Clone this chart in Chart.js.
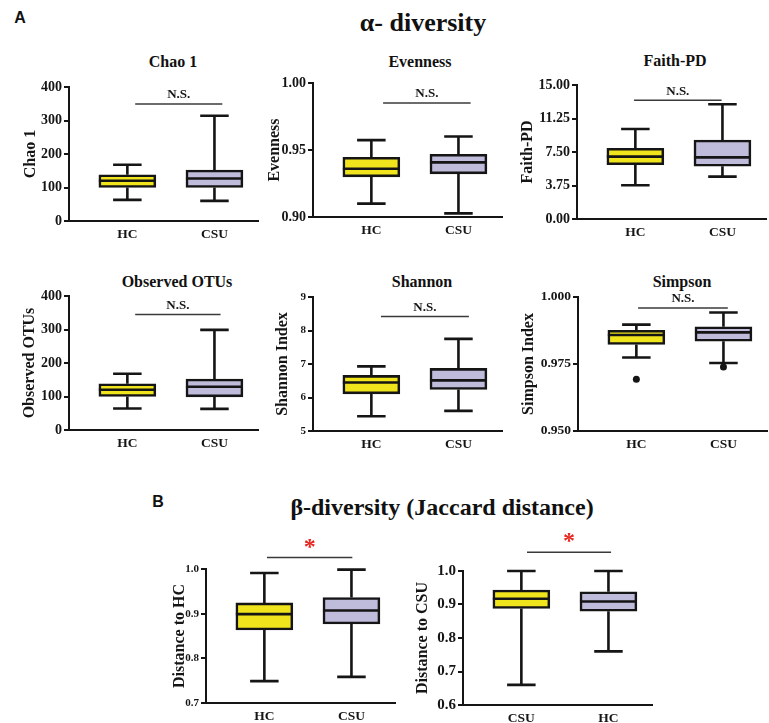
<!DOCTYPE html>
<html>
<head>
<meta charset="utf-8">
<script src="https://cdn.jsdelivr.net/npm/chart.js@4"></script>
<style>
  body { margin: 0; background: #fff; }
  #wrap { position: relative; width: 769px; height: 723px; overflow: hidden; }
  canvas { position: absolute; }
  .lbl { position: absolute; transform: translate(-50%, -50%); white-space: nowrap;
         font-family: "Liberation Serif", serif; font-weight: bold; color: #111; }
  .tag { position: absolute; transform: translate(-50%, -50%);
         font-family: "Liberation Sans", Arial, sans-serif; font-weight: bold; font-size: 16px; color: #111; }
</style>
</head>
<body>
<div id="wrap">
  <div class="tag" style="left:20px;top:18px">A</div>
  <div class="lbl" style="left:423px;top:23px;font-size:26px">α- diversity</div>
  <div class="tag" style="left:158px;top:502px">B</div>
  <div class="lbl" style="left:442px;top:507px;font-size:24px">β-diversity (Jaccard distance)</div>
</div>
<script>
// groups
const groupsA = ['HC', 'CSU'];
const groupsCSUFirst = ['CSU', 'HC'];

// box stats: [min, q1, median, q3, max]
const chao1HC = [63, 100, 120, 138, 168];
const chao1CSU = [60, 100, 127, 152, 314];
const evenHC = [0.910, 0.930, 0.936, 0.9446, 0.9574];
const evenCSU = [0.9027, 0.9322, 0.9408, 0.9468, 0.9601];
const faithHC = [3.77, 6.08, 6.98, 7.91, 10.07];
const faithCSU = [4.74, 5.90, 6.90, 8.84, 12.84];
const otuHC = [64, 100, 120, 138, 168];
const otuCSU = [63, 99, 129, 152, 299];
const shannonHC = [5.44, 6.11, 6.45, 6.66, 6.93];
const shannonCSU = [5.60, 6.24, 6.51, 6.87, 7.75];
const simpsonHC = [0.9774, 0.9823, 0.9858, 0.9876, 0.9897];
const simpsonCSU = [0.9754, 0.9835, 0.9868, 0.9889, 0.9942];
const simpsonOutHC = [0.9693];
const simpsonOutCSU = [0.9739];
const distToHC_HC = [0.749, 0.8635, 0.899, 0.924, 0.991];
const distToHC_CSU = [0.7585, 0.877, 0.907, 0.936, 0.9985];
const distToCSU_CSU = [0.660, 0.888, 0.917, 0.943, 1.0];
const distToCSU_HC = [0.760, 0.880, 0.909, 0.938, 1.0];

// tick labels
const countTicks = ['0', '100', '200', '300', '400'];
const evenTicks = ['0.90', '0.95', '1.00'];
const faithTicks = ['0.00', '3.75', '7.50', '11.25', '15.00'];
const shannonTicks = ['5', '6', '7', '8', '9'];
const simpsonTicks = ['0.950', '0.975', '1.000'];
const distHCTicks = ['0.7', '0.8', '0.9', '1.0'];
const distCSUTicks = ['0.6', '0.7', '0.8', '0.9', '1.0'];

const yellow = '#F0E41C';
const lilac = '#BFBBDB';
const ink = '#151515';
const serif = '"Liberation Serif", "Times New Roman", serif';

const panels = [
  {title: 'Chao 1', yTitle: 'Chao 1', groups: groupsA, boxes: [chao1HC, chao1CSU], outliers: [[], []],
   ticks: countTicks, sig: 'N.S.', sigY: 349, sigX: [1.09, 2.09],
   axisX: 69, top: 86.7, yw: 48, tickSize: 14, tx: 173, ty: 61.5},
  {title: 'Evenness', yTitle: 'Evenness', groups: groupsA, boxes: [evenHC, evenCSU], outliers: [[], []],
   ticks: evenTicks, sig: 'N.S.', sigY: 0.9851, sigX: [1.135, 2.14],
   axisX: 313, top: 82.7, yw: 48, tickSize: 14, tx: 420, ty: 61.5},
  {title: 'Faith-PD', yTitle: 'Faith-PD', groups: groupsA, boxes: [faithHC, faithCSU], outliers: [[], []],
   ticks: faithTicks, sig: 'N.S.', sigY: 13.28, sigX: [0.985, 1.99],
   axisX: 577, top: 85, yw: 59, tickSize: 14, tx: 675, ty: 61},
  {title: 'Observed OTUs', yTitle: 'Observed OTUs', groups: groupsA, boxes: [otuHC, otuCSU], outliers: [[], []],
   ticks: countTicks, sig: 'N.S.', sigY: 345, sigX: [1.09, 2.07],
   axisX: 69, top: 296, yw: 49, tickSize: 14, tx: 177, ty: 282},
  {title: 'Shannon', yTitle: 'Shannon Index', groups: groupsA, boxes: [shannonHC, shannonCSU], outliers: [[], []],
   ticks: shannonTicks, sig: 'N.S.', sigY: 8.42, sigX: [1.11, 2.12],
   axisX: 313, top: 296.7, yw: 40, tickSize: 11, tx: 422, ty: 282},
  {title: 'Simpson', yTitle: 'Simpson Index', groups: groupsA, boxes: [simpsonHC, simpsonCSU],
   outliers: [simpsonOutHC, simpsonOutCSU],
   ticks: simpsonTicks, sig: 'N.S.', sigY: 0.9959, sigX: [1.02, 2.05],
   axisX: 578, top: 296.7, yw: 59, tickSize: 13.5, tx: 682, ty: 282},
  {title: '', yTitle: 'Distance to HC', groups: groupsA, boxes: [distToHC_HC, distToHC_CSU], outliers: [[], []],
   ticks: distHCTicks, sig: '*', sigY: 1.026, sigX: [1.03, 2.01],
   axisX: 206, top: 569, yw: 36, tickSize: 11},
  {title: '', yTitle: 'Distance to CSU', groups: groupsCSUFirst, boxes: [distToCSU_CSU, distToCSU_HC], outliers: [[], []],
   ticks: distCSUTicks, sig: '*', sigY: 1.056, sigX: [1.065, 2.03],
   axisX: 463, top: 571, yw: 50, tickSize: 15}
];

const PAD_TOP = 40, PLOT_H = 134, PLOT_W = 189, X_H = 26, PAD_R = 6;

function boxPlugin(p) {
  return {
    id: 'boxWhiskers',
    afterDatasetsDraw(chart) {
      const ctx = chart.ctx;
      const y = chart.scales.y, x = chart.scales.x;
      const meta = chart.getDatasetMeta(0);
      ctx.save();
      ctx.strokeStyle = ink;
      ctx.fillStyle = ink;
      ctx.lineWidth = 2.6;
      meta.data.forEach((bar, i) => {
        const [mn, q1, md, q3, mx] = p.boxes[i];
        const cx = bar.x, half = bar.width / 2, cap = half * 0.5;
        ctx.beginPath();
        ctx.moveTo(cx, y.getPixelForValue(q3)); ctx.lineTo(cx, y.getPixelForValue(mx));
        ctx.moveTo(cx - cap, y.getPixelForValue(mx)); ctx.lineTo(cx + cap, y.getPixelForValue(mx));
        ctx.moveTo(cx, y.getPixelForValue(q1)); ctx.lineTo(cx, y.getPixelForValue(mn));
        ctx.moveTo(cx - cap, y.getPixelForValue(mn)); ctx.lineTo(cx + cap, y.getPixelForValue(mn));
        ctx.moveTo(cx - half, y.getPixelForValue(md)); ctx.lineTo(cx + half, y.getPixelForValue(md));
        ctx.stroke();
        p.outliers[i].forEach(v => {
          ctx.beginPath();
          ctx.arc(cx, y.getPixelForValue(v), 3.5, 0, Math.PI * 2);
          ctx.fill();
        });
      });
      // significance bar
      const sy = y.getPixelForValue(p.sigY);
      ctx.strokeStyle = '#3a3a3a';
      ctx.lineWidth = 1.5;
      ctx.beginPath();
      ctx.moveTo(x.getPixelForValue(p.sigX[0]), sy);
      ctx.lineTo(x.getPixelForValue(p.sigX[1]), sy);
      ctx.stroke();
      const mid = (x.getPixelForValue(p.sigX[0]) + x.getPixelForValue(p.sigX[1])) / 2;
      ctx.textAlign = 'center';
      ctx.textBaseline = 'middle';
      if (p.sig === '*') {
        ctx.fillStyle = '#E8251F';
        ctx.font = 'bold 24px ' + serif;
        ctx.fillText(p.sig, mid, sy - 10);
      } else {
        ctx.fillStyle = ink;
        ctx.font = 'bold 13px ' + serif;
        ctx.fillText(p.sig, mid, sy - 9);
      }
      ctx.restore();
    }
  };
}

const wrap = document.getElementById('wrap');

panels.forEach(p => {
  if (p.title) {
    const t = document.createElement('div');
    t.className = 'lbl';
    t.style.left = p.tx + 'px';
    t.style.top = p.ty + 'px';
    t.style.fontSize = '16px';
    t.textContent = p.title;
    wrap.appendChild(t);
  }
  const cv = document.createElement('canvas');
  cv.width = p.yw + PLOT_W + PAD_R;
  cv.height = PAD_TOP + PLOT_H + X_H;
  cv.style.left = (p.axisX - p.yw) + 'px';
  cv.style.top = (p.top - PAD_TOP) + 'px';
  wrap.appendChild(cv);

  const tickVals = p.ticks.map(Number);

  new Chart(cv.getContext('2d'), {
    type: 'bar',
    data: {
      datasets: [{
        data: p.boxes.map((b, i) => ({x: i + 1, y: [b[1], b[3]]})),
        backgroundColor: [yellow, lilac],
        borderColor: ink,
        borderWidth: 2.6,
        borderSkipped: false,
        barThickness: 57
      }]
    },
    options: {
      responsive: false,
      animation: false,
      layout: {padding: {top: PAD_TOP, right: PAD_R, left: 0, bottom: 0}},
      plugins: {legend: {display: false}, tooltip: {enabled: false}},
      scales: {
        x: {
          type: 'linear',
          offset: false,
          min: 0.33,
          max: 2.5,
          afterBuildTicks: s => { s.ticks = p.groups.map((g, i) => ({value: i + 1})); },
          afterFit: s => { s.height = X_H; },
          grid: {display: false, drawTicks: false},
          border: {display: true, color: ink, width: 2},
          ticks: {
            color: ink, padding: 5, maxRotation: 0,
            font: {family: serif, weight: 'bold', size: 13.5},
            callback: (v, i) => p.groups[i]
          }
        },
        y: {
          min: tickVals[0],
          max: tickVals[tickVals.length - 1],
          afterBuildTicks: s => { s.ticks = tickVals.map(v => ({value: v})); },
          afterFit: s => { s.width = p.yw; },
          grid: {drawOnChartArea: false, drawTicks: true, tickLength: 5, color: ink, lineWidth: 2},
          border: {display: true, color: ink, width: 2},
          ticks: {
            color: ink, padding: 2,
            font: {family: serif, weight: 'bold', size: p.tickSize},
            callback: (v, i) => p.ticks[i]
          },
          title: {
            display: true, text: p.yTitle, color: ink, padding: 0,
            font: {family: serif, weight: 'bold', size: 16}
          }
        }
      }
    },
    plugins: [boxPlugin(p)]
  });
});
</script>
</body>
</html>
